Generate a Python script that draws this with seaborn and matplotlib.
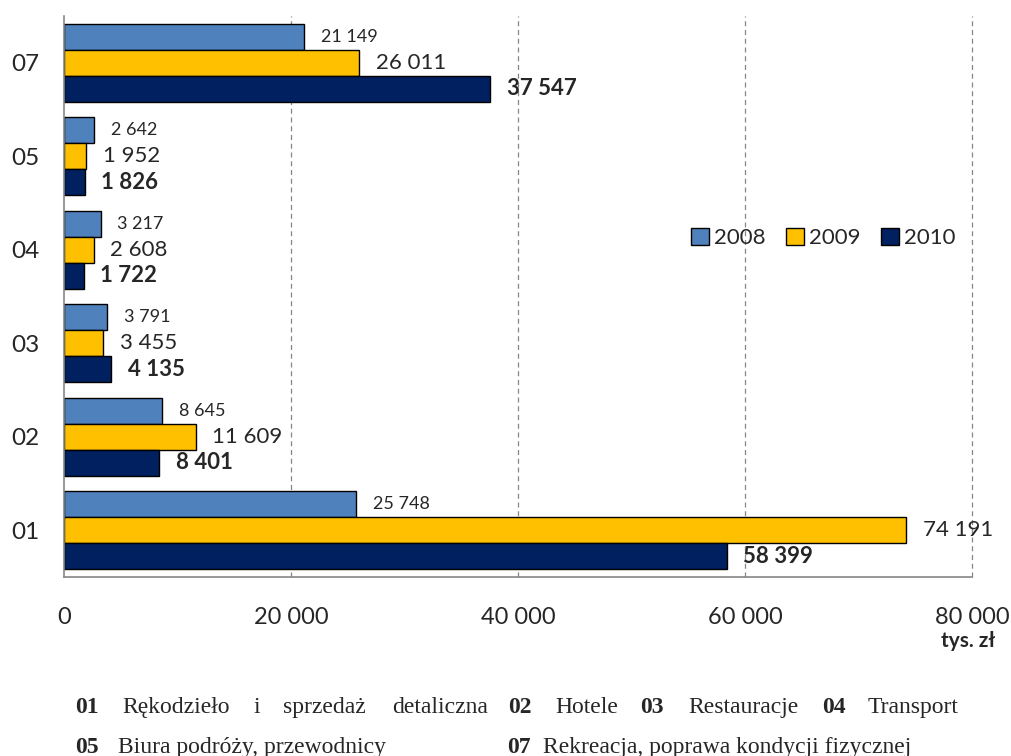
import pandas as pd
import numpy as np
import seaborn as sns
import matplotlib.pyplot as plt

kody = ["07", "05", "04", "03", "02", "01"]
lata = ["2008", "2009", "2010"]
w2008 = [21149, 2642, 3217, 3791, 8645, 25748]
w2009 = [26011, 1952, 2608, 3455, 11609, 74191]
w2010 = [37547, 1826, 1722, 4135, 8401, 58399]
kolory = ["#4F81BD", "#FFC000", "#002060"]
x_ticks = [0, 20000, 40000, 60000, 80000]

rows = []
for rok, vals in zip(lata, [w2008, w2009, w2010]):
    for k, v in zip(kody, vals):
        rows.append({"kod": k, "rok": rok, "wartosc": v})
df = pd.DataFrame(rows)

sns.set_style("white")
plt.rcParams["font.family"] = ["Lato", "DejaVu Sans"]

def fmt(v):
    return f"{v:,}".replace(",", " ")

fig = plt.figure(figsize=(10.11, 7.56), dpi=100)
ax = fig.add_axes([64 / 1011, 1 - 577 / 756, (972 - 64) / 1011, (577 - 16) / 756])

sns.barplot(data=df, y="kod", x="wartosc", hue="rok", order=kody, hue_order=lata,
            palette=kolory, orient="h", width=0.834, edgecolor="black", linewidth=1.0,
            saturation=1, ax=ax)

ax.set_xlim(0, 80000)
ax.set_ylim(len(kody) - 0.5, -0.5)
ax.set_xlabel("")
ax.set_ylabel("")

# grid
for x in x_ticks[1:]:
    ax.axvline(x, color="#868686", lw=0.9, ls=(0, (4, 3)), zorder=0, clip_on=False)

for s in ["top", "right"]:
    ax.spines[s].set_visible(False)
for s in ["left", "bottom"]:
    ax.spines[s].set_color("#868686")
    ax.spines[s].set_linewidth(1.2)

ax.set_xticks(x_ticks)
ax.set_xticklabels([fmt(v) for v in x_ticks])
ax.tick_params(axis="x", direction="out", length=4.5, width=1, color="#868686",
               pad=17, labelsize=17)
ax.tick_params(axis="y", which="major", length=0, pad=18, labelsize=17.5)
ax.set_yticks(np.arange(-0.5, len(kody), 1), minor=True)
ax.tick_params(axis="y", which="minor", direction="out", length=6, width=1, color="#868686")

# etykiety danych
styles = [dict(fontsize=13), dict(fontsize=16), dict(fontsize=16, fontweight="bold")]
for cont, vals, st in zip(ax.containers, [w2008, w2009, w2010], styles):
    ax.bar_label(cont, labels=[fmt(v) for v in vals], padding=12, **st)

handles, labels = ax.get_legend_handles_labels()
ax.legend(handles, labels, loc="center left", bbox_to_anchor=(691 / 1011, 1 - 238 / 756),
          bbox_transform=fig.transFigure, ncol=3, frameon=False, fontsize=16,
          handlelength=0.8, handleheight=0.8, handletextpad=0.25, columnspacing=0.9,
          borderpad=0, borderaxespad=0)

fig.text(968 / 1011, 1 - 641 / 756, "tys. zł", fontsize=15, fontweight="bold",
         ha="center", va="center")

# opis kodow
serif = ["Liberation Serif", "DejaVu Serif"]
linia1 = [("01", 75, True), ("Rękodzieło", 122, False), ("i", 253, False),
          ("sprzedaż", 283, False), ("detaliczna", 392, False), ("02", 508, True),
          ("Hotele", 555, False), ("03", 640, True), ("Restauracje", 688, False),
          ("04", 822, True), ("Transport", 868, False)]
linia2 = [("05", 75, True), ("Biura podróży, przewodnicy", 118, False),
          ("07", 507, True), ("Rekreacja, poprawa kondycji fizycznej", 543, False)]
for linia, yb in [(linia1, 713), (linia2, 753)]:
    for txt, xp, bold in linia:
        fig.text(xp / 1011, 1 - yb / 756, txt, family=serif, fontsize=17,
                 fontweight="bold" if bold else "normal", ha="left", va="baseline")

fig.savefig("out.png", dpi=100)
